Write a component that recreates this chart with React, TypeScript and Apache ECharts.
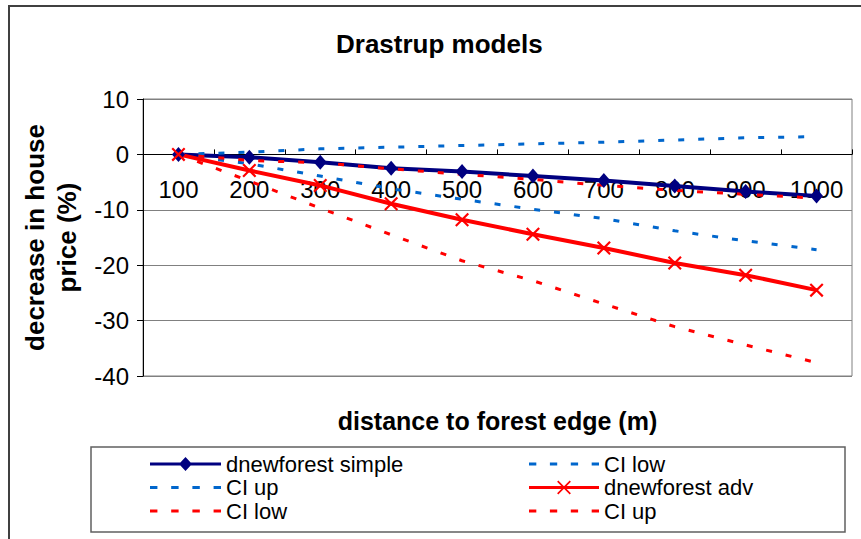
import React, { useEffect, useRef } from "react";
import * as echarts from "echarts";

const categories = ["100", "200", "300", "400", "500", "600", "700", "800", "900", "1000"];
const simpleValues = [0, -0.5, -1.4, -2.5, -3.1, -3.9, -4.7, -5.7, -6.7, -7.5];
const simpleCiLow = [0, -1.7, -3.9, -6.2, -8.1, -9.9, -11.6, -13.8, -15.6, -17.2];
const simpleCiUp = [0, 0.4, 1.0, 1.3, 1.6, 1.9, 2.2, 2.6, 3.0, 3.2];
const advValues = [0, -2.9, -5.6, -8.9, -11.8, -14.4, -16.9, -19.6, -21.8, -24.5];
const advCiLow = [0, -4.8, -9.7, -14.5, -19.2, -22.8, -27.0, -31.1, -34.4, -37.6];
const advCiUp = [0, -1.1, -1.5, -2.6, -3.6, -4.5, -5.6, -6.5, -7.2, -7.9];
const yMin = -40;
const yMax = 10;
const yStep = 10;

const FONT = "'Liberation Sans', Arial, sans-serif";
const NAVY = "#000080";
const BLUE = "#0066CC";
const RED = "#FF0000";
const X_SYMBOL = "path://M0,1.1L1.1,0L10,8.9L8.9,10Z M8.9,0L10,1.1L1.1,10L0,8.9Z";
const DASH = [6, 14];
const DASH_ICON = "path://M0,0h7v3h-7z M20,0h7v3h-7z M40,0h7v3h-7z M60,0h7v3h-7z";
const DIAMOND_ICON = "path://M0,5.5H71V8.5H0Z M35.5,0L42,7L35.5,14L29,7Z";
const X_ICON =
  "path://M0,5.5H71V8.5H0Z M28.5,1.2L29.7,0L42.5,12.8L41.3,14Z M41.3,0L42.5,1.2L29.7,14L28.5,12.8Z";

const GRID_TOP = 99;
const GRID_BOTTOM_PX = 376;

export default function App() {
  const ref = useRef<HTMLDivElement>(null);
  useEffect(() => {
    const chart = echarts.init(ref.current!, null, { renderer: "svg" });
    const plotH = GRID_BOTTOM_PX - GRID_TOP;
    const zeroFromBottom = (plotH * (0 - yMin)) / (yMax - yMin);
    const legendCommon = {
      orient: "vertical",
      padding: 0,
      itemHeight: 14,
      itemGap: 1.5,
      selectedMode: false,
      textStyle: { fontSize: 22, lineHeight: 22, color: "#000", fontFamily: FONT },
    };
    chart.setOption({
      animation: false,
      backgroundColor: "#fff",
      title: {
        text: "Drastrup models",
        left: 336,
        top: 31,
        padding: 0,
        textStyle: { fontSize: 26, fontWeight: "bold", color: "#000", fontFamily: FONT },
      },
      grid: {
        left: 143,
        right: 9,
        top: GRID_TOP,
        bottom: 539 - GRID_BOTTOM_PX,
        show: true,
        borderColor: "#808080",
        borderWidth: 1,
        backgroundColor: "transparent",
        containLabel: false,
        outerBoundsMode: "none",
      },
      legend: [
        {
          ...legendCommon,
          left: 150,
          top: 453,
          itemWidth: 71,
          data: [
            { name: "dnewforest simple", icon: DIAMOND_ICON },
            { name: "CI up", icon: DASH_ICON },
            { name: "CI low ", icon: DASH_ICON },
          ],
        },
        {
          ...legendCommon,
          left: 529,
          top: 453,
          itemWidth: 70,
          data: [
            { name: "CI low", icon: DASH_ICON },
            { name: "dnewforest adv", icon: X_ICON },
            { name: "CI up ", icon: DASH_ICON },
          ],
        },
      ],
      xAxis: {
        type: "category",
        data: categories,
        boundaryGap: true,
        offset: -zeroFromBottom,
        axisLine: { onZero: false, lineStyle: { color: "#000", width: 1 } },
        axisTick: { show: true, inside: true, length: 5, interval: 0, lineStyle: { color: "#000" } },
        axisLabel: { interval: 0, fontSize: 24, color: "#000", margin: 23, fontFamily: FONT },
        splitLine: { show: false },
        name: "distance to forest edge (m)",
        nameLocation: "middle",
        nameGap: 254,
        nameTextStyle: { fontSize: 25, fontWeight: "bold", color: "#000", fontFamily: FONT },
      },
      yAxis: {
        type: "value",
        min: yMin,
        max: yMax,
        interval: yStep,
        axisLine: { show: true, lineStyle: { color: "#000" } },
        axisTick: { show: true, length: 6, lineStyle: { color: "#000" } },
        axisLabel: { fontSize: 24, color: "#000", margin: 14, fontFamily: FONT },
        splitLine: { show: true, lineStyle: { color: "#808080", width: 1 } },
        name: "decrease in house\nprice (%)",
        nameLocation: "middle",
        nameRotate: 90,
        nameGap: 52,
        nameTextStyle: { fontSize: 26, fontWeight: "bold", lineHeight: 32, color: "#000", fontFamily: FONT },
      },
      graphic: [
        {
          type: "rect",
          silent: true,
          shape: { x: 9, y: 6, width: 1000, height: 1000 },
          style: { fill: "none", stroke: "#404040", lineWidth: 2 },
        },
        {
          type: "rect",
          silent: true,
          shape: { x: 91, y: 447, width: 754, height: 85 },
          style: { fill: "none", stroke: "#606060", lineWidth: 1.5 },
        },
      ],
      series: [
        {
          name: "dnewforest simple",
          type: "line",
          data: simpleValues,
          symbol: "diamond",
          symbolSize: [13, 15],
          lineStyle: { color: NAVY, width: 4 },
          itemStyle: { color: NAVY },
        },
        {
          name: "CI low",
          type: "line",
          data: simpleCiUp,
          symbol: "none",
          lineStyle: { color: BLUE, width: 3, type: DASH },
          itemStyle: { color: BLUE },
        },
        {
          name: "CI up",
          type: "line",
          data: simpleCiLow,
          symbol: "none",
          lineStyle: { color: BLUE, width: 3, type: DASH },
          itemStyle: { color: BLUE },
        },
        {
          name: "dnewforest adv",
          type: "line",
          data: advValues,
          symbol: X_SYMBOL,
          symbolSize: 14,
          lineStyle: { color: RED, width: 4 },
          itemStyle: { color: RED },
        },
        {
          name: "CI low ",
          type: "line",
          data: advCiLow,
          symbol: "none",
          lineStyle: { color: RED, width: 3, type: DASH },
          itemStyle: { color: RED },
        },
        {
          name: "CI up ",
          type: "line",
          data: advCiUp,
          symbol: "none",
          lineStyle: { color: RED, width: 3, type: DASH },
          itemStyle: { color: RED },
        },
      ],
    });
    return () => chart.dispose();
  }, []);
  return (
    <div
      ref={ref}
      style={{ position: "fixed", left: 0, top: 0, width: 861, height: 539, background: "#fff" }}
    />
  );
}
